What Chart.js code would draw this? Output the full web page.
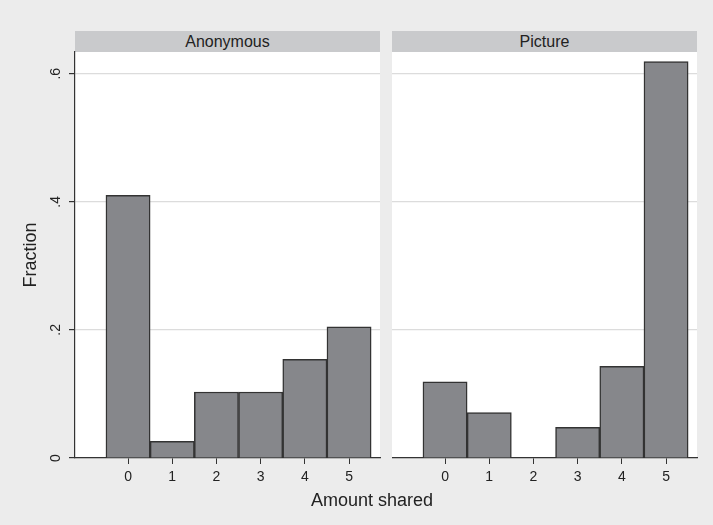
<!DOCTYPE html>
<html>
<head>
<meta charset="utf-8">
<script src="https://cdn.jsdelivr.net/npm/chart.js@4"></script>
<style>
  body { margin: 0; background: #ececec; font-family: 'Liberation Sans', Arial, sans-serif; }
  #wrap { position: relative; width: 713px; height: 525px; overflow: hidden; }
  canvas { position: absolute; }
  .head { position: absolute; top: 31px; height: 21px; line-height: 21px; width: 305px;
          background: #c9cacc; color: #222; font-size: 16px; text-align: center; }
  #xtitle { position: absolute; left: 272px; width: 200px; top: 490px; line-height: 20px;
            text-align: center; font-size: 18px; color: #222; }
</style>
</head>
<body>
<div id="wrap">
  <div class="head" style="left:75px">Anonymous</div>
  <div class="head" style="left:392px">Picture</div>
  <canvas id="chartAnon" width="385" height="493" style="left:0;top:32px"></canvas>
  <canvas id="chartPic" width="310" height="493" style="left:392px;top:32px"></canvas>
  <div id="xtitle">Amount shared</div>
</div>
<script>
// ヒストグラムのデータ（割合）
const amounts = [0, 1, 2, 3, 4, 5];
const anonFraction = [0.41, 0.026, 0.103, 0.103, 0.154, 0.205];
const pictureFraction = [0.119, 0.071, 0, 0.048, 0.143, 0.619];
const yTicks = [0, 0.2, 0.4, 0.6];
const yTickLabels = ['0', '.2', '.4', '.6'];

const fontName = "'Liberation Sans', Arial, sans-serif";

// プロット領域だけ白く塗る
const whiteArea = {
  id: 'whiteArea',
  beforeDraw(chart) {
    const a = chart.chartArea;
    chart.ctx.save();
    chart.ctx.fillStyle = '#ffffff';
    chart.ctx.fillRect(a.left, a.top, a.right - a.left, a.bottom - a.top);
    chart.ctx.restore();
  }
};

function makeChart(id, values, withAxis) {
  return new Chart(document.getElementById(id), {
    type: 'bar',
    data: {
      datasets: [{
        data: amounts.map((a, i) => ({ x: a, y: values[i] })),
        backgroundColor: '#86878b',
        borderColor: '#333333',
        borderWidth: 1.5,
        barPercentage: 1,
        categoryPercentage: 1
      }]
    },
    options: {
      responsive: false,
      animation: false,
      devicePixelRatio: 1,
      layout: { padding: { top: 20, right: 5, left: 0, bottom: 0 } },
      plugins: { legend: { display: false }, tooltip: { enabled: false } },
      scales: {
        x: {
          type: 'linear',
          min: -1.2,
          max: 5.7,
          offset: false,
          afterBuildTicks: s => { s.ticks = amounts.map(v => ({ value: v })); },
          afterFit: s => { s.height = 67; },
          grid: { offset: false, drawOnChartArea: false, tickLength: 6, tickColor: '#333333' },
          border: { color: '#333333', width: 1.2 },
          ticks: { padding: 5, color: '#222', font: { family: fontName, size: 14 } }
        },
        y: {
          min: 0,
          max: 0.634,
          afterBuildTicks: s => { s.ticks = yTicks.map(v => ({ value: v })); },
          afterFit: s => { s.width = withAxis ? 75 : 0; },
          grid: { color: '#dcdcdc', lineWidth: 1.2, drawTicks: withAxis, tickLength: 6, tickColor: '#333333' },
          border: { display: withAxis, color: '#333333', width: 1.2 },
          ticks: {
            display: withAxis,
            minRotation: 90,
            maxRotation: 90,
            crossAlign: 'center',
            padding: 7,
            color: '#222',
            font: { family: fontName, size: 14 },
            callback: (v, i) => yTickLabels[i]
          },
          title: {
            display: withAxis,
            text: 'Fraction',
            color: '#222',
            padding: { top: 20, bottom: 0 },
            font: { family: fontName, size: 18 }
          }
        }
      }
    },
    plugins: [whiteArea]
  });
}

makeChart('chartAnon', anonFraction, true);
makeChart('chartPic', pictureFraction, false);
</script>
</body>
</html>
